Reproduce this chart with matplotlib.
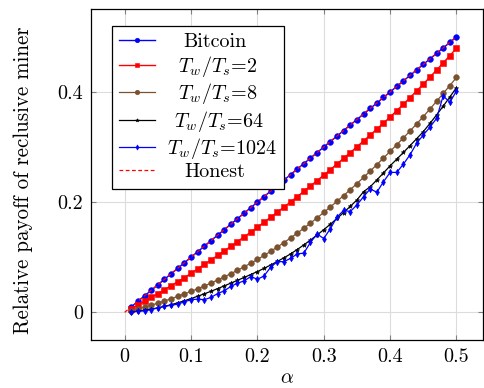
import matplotlib
matplotlib.use("Agg")
import matplotlib.pyplot as plt

# alpha values (0.01 .. 0.50)
alpha = [0.01, 0.02, 0.03, 0.04, 0.05, 0.06, 0.07, 0.08, 0.09, 0.10,
         0.11, 0.12, 0.13, 0.14, 0.15, 0.16, 0.17, 0.18, 0.19, 0.20,
         0.21, 0.22, 0.23, 0.24, 0.25, 0.26, 0.27, 0.28, 0.29, 0.30,
         0.31, 0.32, 0.33, 0.34, 0.35, 0.36, 0.37, 0.38, 0.39, 0.40,
         0.41, 0.42, 0.43, 0.44, 0.45, 0.46, 0.47, 0.48, 0.49, 0.50]

bitcoin = [0.01, 0.02, 0.03, 0.04, 0.05, 0.06, 0.07, 0.08, 0.09, 0.10,
           0.11, 0.12, 0.13, 0.14, 0.15, 0.16, 0.17, 0.18, 0.19, 0.20,
           0.21, 0.22, 0.23, 0.24, 0.25, 0.26, 0.27, 0.28, 0.29, 0.30,
           0.31, 0.32, 0.33, 0.34, 0.35, 0.36, 0.37, 0.38, 0.39, 0.40,
           0.41, 0.42, 0.43, 0.44, 0.45, 0.46, 0.47, 0.48, 0.49, 0.50]

tw_ts_2 = [0.0066, 0.0133, 0.0201, 0.0270, 0.0340, 0.0411, 0.0483, 0.0556, 0.0630, 0.0708,
           0.0789, 0.0869, 0.0950, 0.1032, 0.1115, 0.1199, 0.1284, 0.1370, 0.1457, 0.1545,
           0.1635, 0.1726, 0.1818, 0.1911, 0.2005, 0.2100, 0.2196, 0.2293, 0.2391, 0.2490,
           0.2591, 0.2693, 0.2796, 0.2900, 0.3005, 0.3111, 0.3218, 0.3326, 0.3435, 0.3545,
           0.3660, 0.3778, 0.3898, 0.4020, 0.4144, 0.4270, 0.4398, 0.4528, 0.4660, 0.4794]

tw_ts_8 = [0.0030, 0.0062, 0.0095, 0.0130, 0.0167, 0.0206, 0.0247, 0.0290, 0.0334, 0.0380,
           0.0428, 0.0478, 0.0531, 0.0586, 0.0643, 0.0702, 0.0763, 0.0826, 0.0892, 0.0960,
           0.1032, 0.1107, 0.1185, 0.1266, 0.1350, 0.1437, 0.1527, 0.1620, 0.1715, 0.1813,
           0.1913, 0.2015, 0.2120, 0.2227, 0.2337, 0.2449, 0.2564, 0.2681, 0.2801, 0.2920,
           0.3043, 0.3166, 0.3292, 0.3421, 0.3553, 0.3690, 0.3830, 0.3973, 0.4117, 0.4263]

tw_ts_64 = [0.0010, 0.0025, 0.0042, 0.0060, 0.0080, 0.0108, 0.0139, 0.0173, 0.0210, 0.0250,
            0.0292, 0.0336, 0.0382, 0.0430, 0.0480, 0.0530, 0.0581, 0.0633, 0.0686, 0.0740,
            0.0798, 0.0859, 0.0923, 0.0990, 0.1060, 0.1140, 0.1224, 0.1312, 0.1404, 0.1500,
            0.1600, 0.1704, 0.1812, 0.1924, 0.2040, 0.2190, 0.2279, 0.2403, 0.2530, 0.2660,
            0.2780, 0.2902, 0.3026, 0.3152, 0.3280, 0.3428, 0.3583, 0.3743, 0.3908, 0.4080]

tw_ts_1024 = [0.000, 0.002, 0.0025, 0.005, 0.008, 0.011, 0.0127, 0.015, 0.019, 0.023,
              0.024, 0.023, 0.027, 0.034, 0.039, 0.047, 0.053, 0.057, 0.065, 0.060,
              0.066, 0.082, 0.092, 0.092, 0.098, 0.106, 0.1075, 0.127, 0.142, 0.134,
              0.152, 0.173, 0.185, 0.183, 0.195, 0.210, 0.224, 0.218, 0.237, 0.254,
              0.254, 0.269, 0.286, 0.307, 0.322, 0.336, 0.352, 0.393, 0.381, 0.402]

honest_x = [0.0, 0.5]
honest_y = [0.0, 0.5]

x_ticks = [0, 0.1, 0.2, 0.3, 0.4, 0.5]
x_tick_labels = ["0", "0.1", "0.2", "0.3", "0.4", "0.5"]
y_ticks = [0, 0.2, 0.4]
y_tick_labels = ["0", "0.2", "0.4"]

plt.rcParams["font.family"] = "cmr10"
plt.rcParams["mathtext.fontset"] = "cm"
plt.rcParams["axes.unicode_minus"] = False
plt.rcParams["axes.formatter.use_mathtext"] = True

fs = 14.5
fig = plt.figure(figsize=(4.84, 3.88), dpi=100)
ax = fig.add_axes([0.189, 0.124, 0.809, 0.852])

brown = "#7a5230"
mk = dict(markeredgewidth=0.4)
ax.plot(alpha, bitcoin, color="blue", marker="o", markersize=4.1, linewidth=1.0,
        label="Bitcoin", **mk)
ax.plot(alpha, tw_ts_2, color="red", marker="s", markersize=3.8, linewidth=1.0,
        label=r"$T_w/T_s$=2", **mk)
ax.plot(alpha, tw_ts_8, color=brown, marker="o", markersize=4.1, linewidth=0.9,
        label=r"$T_w/T_s$=8", **mk)
ax.plot(alpha, tw_ts_64, color="black", marker="*", markersize=3.3, linewidth=0.9,
        label=r"$T_w/T_s$=64", **mk)
ax.plot(alpha, tw_ts_1024, color="blue", marker="d", markersize=3.3, linewidth=0.9,
        label=r"$T_w/T_s$=1024", **mk)
ax.plot(honest_x, honest_y, color="red", linestyle=(0, (3, 2)), linewidth=0.9,
        label="Honest")

ax.set_xlim(-0.05, 0.54)
ax.set_ylim(-0.05, 0.55)
ax.set_xticks(x_ticks)
ax.set_xticklabels(x_tick_labels, fontsize=fs)
ax.set_yticks(y_ticks)
ax.set_yticklabels(y_tick_labels, fontsize=fs)
ax.tick_params(direction="in", length=3.5, color="#808080", width=0.8,
               top=True, right=True, pad=6)
ax.grid(True, color="#dcdcdc", linewidth=0.8)
ax.set_axisbelow(True)
for s in ax.spines.values():
    s.set_linewidth(0.9)

ax.set_xlabel(r"$\alpha$", fontsize=fs, labelpad=2)
ax.set_ylabel("Relative payoff of reclusive miner", fontsize=15.1)
ax.yaxis.set_label_coords(-0.15, 0.483)

leg = ax.legend(loc="upper left", bbox_to_anchor=(0.053, 0.949), fontsize=fs,
                frameon=True, fancybox=False, edgecolor="black", framealpha=1,
                handlelength=1.75, handletextpad=0.6, labelspacing=0.12,
                borderpad=0.35, borderaxespad=0, markerscale=0.8)
leg.get_frame().set_linewidth(0.9)

# centre legend texts in their column, like pgfplots does
renderer = fig.canvas.get_renderer()
widths = [t.get_window_extent(renderer).width for t in leg.get_texts()]
wmax = max(widths)
for t, w in zip(leg.get_texts(), widths):
    t.set_x((wmax - w) / 2 * 72 / fig.dpi)

fig.savefig("out.png", dpi=100)
